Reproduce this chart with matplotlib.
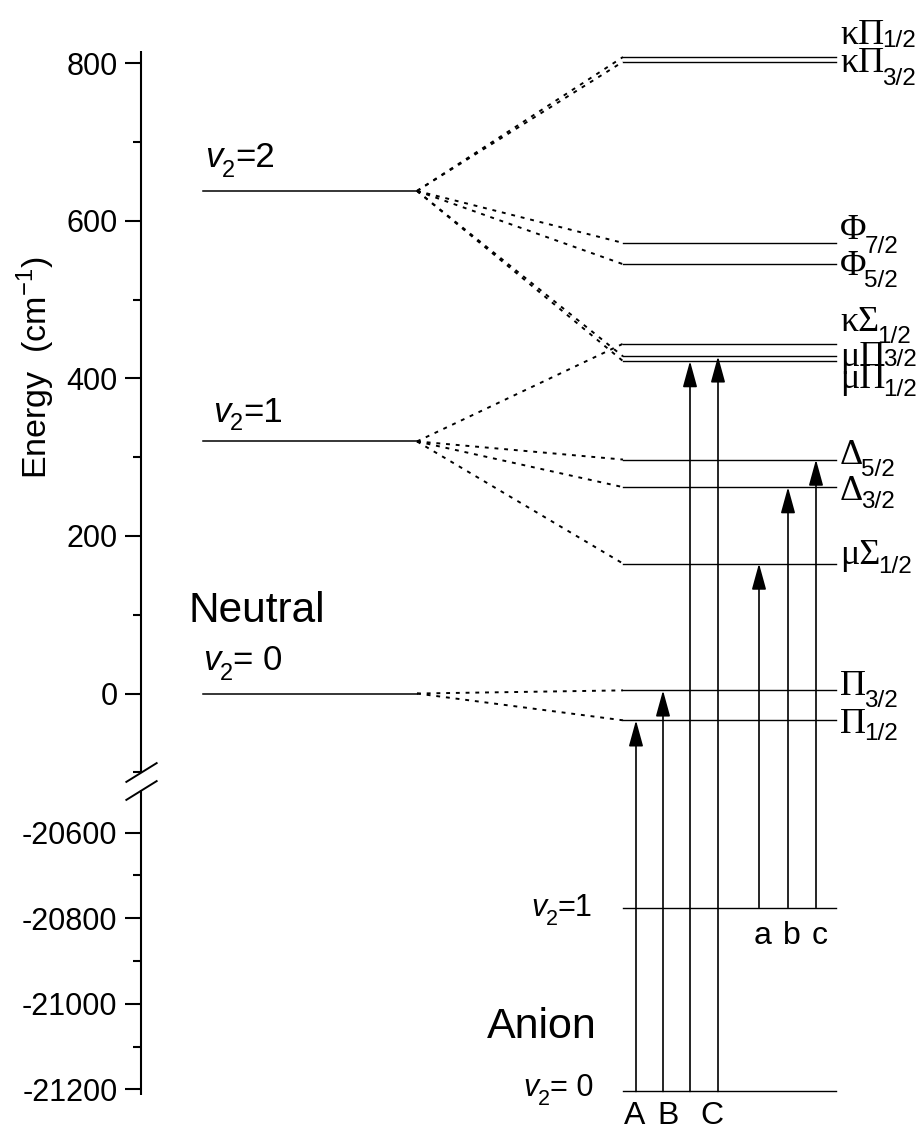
import numpy as np
import matplotlib.pyplot as plt

plt.rcParams['font.family'] = ['Liberation Sans', 'DejaVu Sans']
plt.rcParams['mathtext.fontset'] = 'custom'
plt.rcParams['mathtext.rm'] = 'Liberation Serif'
plt.rcParams['mathtext.sf'] = 'Liberation Sans'
plt.rcParams['axes.unicode_minus'] = False

# neutral bending levels (cm-1)
neutral_tail = ['= 0', '=1', '=2']
neutral_E = [0, 320, 638]

# vibronic / spin-orbit components and the neutral level they come from
state_main = ['Π', 'Π', 'μΣ', 'Δ', 'Δ', 'μΠ', 'μΠ', 'κΣ', 'Φ', 'Φ', 'κΠ', 'κΠ']
state_sub = ['1/2', '3/2', '1/2', '3/2', '5/2', '1/2', '3/2', '1/2', '5/2', '7/2', '3/2', '1/2']
state_E = [-34, 4, 165, 262, 297, 422, 428, 444, 545, 572, 802, 808]
state_parent = [0, 0, 1, 1, 1, 2, 2, 1, 2, 2, 2, 2]

# anion levels
anion_tail = ['= 0', '=1']
anion_E = [-21205, -20775]

# transitions: anion level -> state index
trans_from = [0, 0, 0, 0, 1, 1, 1]
trans_to = [0, 1, 5, 6, 2, 3, 4]
band_labels = ['A', 'B', 'C', 'a', 'b', 'c']

yticks = [-21200, -21000, -20800, -20600, 0, 200, 400, 600, 800]
yticklabels = ['-21200', '-21000', '-20800', '-20600', '0', '200', '400', '600', '800']
yminor = [-21100, -20900, -20700, -100, 100, 300, 500, 700]

# ---- layout (x in pixel-like units) ----
x_axis = 141
x_neu = (203, 417)
x_right = (623, 836)
x_arrows = [636, 663, 690, 718, 759, 788, 816]
x_band = [635, 668, 712, 763, 792, 820]
state_dy = [13, 5, 0, 13, 4, 27, 10, -13, 11, -4, 10, -13]   # main baseline below line, px
state_subdy = [7, 12, 9, 8, 12, 8, 0, 12, 12, 14, 13, 3]     # subscript below main baseline, px
neutral_pos = [(203, 24, 10), (213, 19, 8), (205, 24, 10)]   # x, baseline above line, sub drop
anion_pos = [(523, -5, 9), (531, -8, 9)]

# piecewise y mapping with a break between -20500 and -100
Eb = [-30000, -21214, -20500, -100, 816, 5000]
yb = [4852.8, 1095.3, 789.9, 772.3, 50.7, -3245.3]
vb = [-v for v in yb]


def fwd(e):
    return np.interp(e, Eb, vb)


def inv(v):
    return np.interp(v, vb, Eb)


def rich(x, e, base_px, parts):
    # parts: (text, size, family, style, extra drop px, x nudge pt)
    prev = None
    for text, fs, fam, sty, drop, dx in parts:
        off = (dx, -(base_px + drop) * 0.72)
        if prev is None:
            prev = ax.annotate(text, xy=(x, e), xytext=off, textcoords='offset points',
                               ha='left', va='baseline', fontsize=fs, family=fam, style=sty)
        else:
            prev = ax.annotate(text, xy=(1, e), xycoords=(prev, 'data'), xytext=off,
                               textcoords='offset points', ha='left', va='baseline',
                               fontsize=fs, family=fam, style=sty)
    return prev


fig = plt.figure(figsize=(9.22, 11.31), dpi=100)
ax = fig.add_axes([141 / 922, 35.7 / 1131, 781 / 922, 1044.6 / 1131])
ax.set_yscale('function', functions=(fwd, inv))
ax.set_xlim(141, 922)
ax.set_ylim(-21214, 816)
for s in ax.spines.values():
    s.set_visible(False)
ax.set_xticks([])
ax.set_yticks(yticks)
ax.set_yticklabels(yticklabels, fontsize=22)
ax.set_yticks(yminor, minor=True)
ax.tick_params(axis='y', which='major', length=11.5, width=1.5, pad=5.5)
ax.tick_params(axis='y', which='minor', length=5.8, width=1.5)

# axis line in two pieces + break marks
ax.plot([x_axis, x_axis], [-21214, -20500], color='k', lw=1.5, clip_on=False, solid_capstyle='butt')
ax.plot([x_axis, x_axis], [-100, 816], color='k', lw=1.5, clip_on=False, solid_capstyle='butt')
ax.plot([x_axis, x_axis], [-20500, -100], marker=[(-1, -0.62), (1, 0.62)], markersize=23,
        linestyle='none', color='k', mew=1.4, clip_on=False)

fig.text(36 / 922, 1 - 368 / 1131, r'Energy  (cm$^{\mathsf{-1}}$)', rotation=90,
         ha='center', va='center', fontsize=24.5)

sans = 'Liberation Sans'
serif = 'Liberation Serif'

# neutral levels
for i, e in enumerate(neutral_E):
    ax.plot(x_neu, [e, e], color='k', lw=1.1)
    xl, up, drop = neutral_pos[i]
    rich(xl, e, -up, [('v', 25, sans, 'italic', 0, 0), ('2', 17, sans, 'normal', drop, -0.5),
                      (neutral_tail[i], 25, sans, 'normal', 0, 0)])
ax.annotate('Neutral', xy=(188, neutral_E[0]), xytext=(0, 72 * 0.72), textcoords='offset points',
            ha='left', va='baseline', fontsize=30.5)

# components and correlation lines
for i, e in enumerate(state_E):
    ax.plot(x_right, [e, e], color='k', lw=1.0)
    ax.plot([x_neu[1], x_right[0]], [neutral_E[state_parent[i]], e], color='k', lw=1.4,
            ls=(0, (2, 3)))
    rich(840, e, state_dy[i], [(state_main[i], 26, serif, 'normal', 0, 0),
                               (state_sub[i], 17.5, sans, 'normal', state_subdy[i], -1.5)])

# anion levels
for i, e in enumerate(anion_E):
    ax.plot(x_right, [e, e], color='k', lw=1.0)
    xl, down, drop = anion_pos[i]
    rich(xl, e, -down, [('v', 22, sans, 'italic', 0, 0), ('2', 15.5, sans, 'normal', drop, -0.5),
                        (anion_tail[i], 22, sans, 'normal', 0, 0)])
ax.annotate('Anion', xy=(597, anion_E[0]), xytext=(0, 53 * 0.72), textcoords='offset points',
            ha='right', va='baseline', fontsize=31)

# transitions
for i in range(len(trans_from)):
    x = x_arrows[i]
    ax.annotate('', xy=(x, state_E[trans_to[i]]), xytext=(x, anion_E[trans_from[i]]),
                arrowprops=dict(arrowstyle='-|>,head_length=0.8,head_width=0.22', mutation_scale=20,
                                lw=1.2, color='k', shrinkA=0, shrinkB=0))

for j, lab in enumerate(band_labels):
    base = anion_E[0] if lab.isupper() else anion_E[1]
    dy = 33 if lab.isupper() else 36
    ax.annotate(lab, xy=(x_band[j], base), xytext=(0, -dy * 0.72), textcoords='offset points',
                ha='center', va='baseline', fontsize=23)

fig.savefig('out.png', dpi=100)
